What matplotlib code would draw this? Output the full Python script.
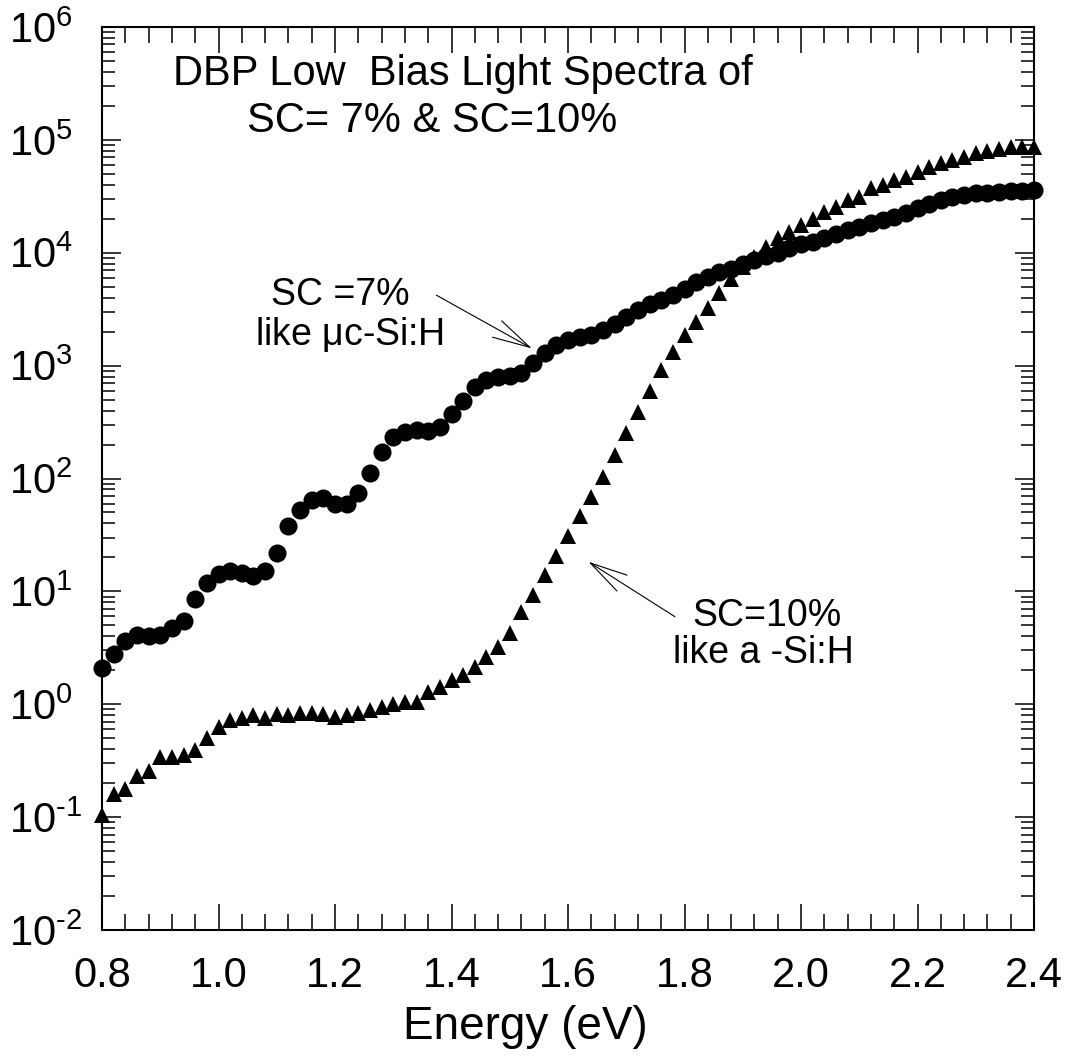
import numpy as np
import matplotlib
matplotlib.use('Agg')
import matplotlib.pyplot as plt
from matplotlib.ticker import MultipleLocator, LogLocator, NullFormatter, FuncFormatter

plt.rcParams['font.family'] = ['Liberation Sans', 'DejaVu Sans']
plt.rcParams['mathtext.fontset'] = 'custom'
plt.rcParams['mathtext.rm'] = 'Liberation Sans'

# energia (eV), un punto cada 0.02 eV
energy = np.round(np.arange(0.80, 2.401, 0.02), 2)

# SC = 7 % (circulos)
sc7 = [2.08, 2.8, 3.65, 4.1, 4.0, 4.1, 4.7, 5.5, 8.5, 11.9,
       14.2, 15.2, 14.6, 13.7, 15.2, 22, 37.9, 52.5, 65, 66.6,
       60, 59.3, 73.8, 112, 172, 234, 259, 268, 266, 287,
       375, 485, 641, 742, 785, 807, 852, 1046, 1297, 1515,
       1682, 1778, 1865, 2062, 2332, 2700, 3100, 3500, 3800, 4200,
       4820, 5520, 6100, 6770, 7250, 7940, 8600, 9330, 10000, 10960,
       11900, 12500, 13650, 14800, 15850, 17000, 18200, 19500, 20800, 22600,
       24700, 26900, 29200, 30900, 32400, 33500, 33900, 34700, 35200, 35400,
       36300]

# SC = 10 % (triangulos)
sc10 = [0.104, 0.16, 0.176, 0.231, 0.258, 0.343, 0.34, 0.355, 0.393, 0.5,
        0.63, 0.724, 0.75, 0.8, 0.75, 0.82, 0.8, 0.84, 0.84, 0.82,
        0.766, 0.8, 0.84, 0.89, 0.94, 1.0, 1.05, 1.05, 1.29, 1.43,
        1.64, 1.81, 2.15, 2.64, 3.2, 4.3, 6.6, 9.3, 14.0, 20.5,
        31, 47, 68, 103, 161, 251, 390, 598, 912, 1325,
        1862, 2443, 3210, 4365, 5800, 7500, 9200, 11270, 13400, 15300,
        17600, 20100, 23000, 25500, 29200, 31300, 37100, 39700, 44000, 47100,
        52100, 57700, 61800, 66100, 70800, 75900, 80000, 82800, 85700, 86900,
        86900]


def exp_label(v, pos):
    e = int(round(np.log10(v)))
    s = str(e).replace('-', '\u2010')  # guion corto como en el original
    return r'$\mathregular{10^{%s}}$' % s


fig = plt.figure(figsize=(10.70, 10.62), dpi=100)
ax = fig.add_axes([0.09533, 0.12429, 0.87103, 0.85028])

ax.plot(energy, sc7, linestyle='none', marker='o', markersize=13,
        color='black', markeredgewidth=0, clip_on=False, zorder=3)
ax.plot(energy, sc10, linestyle='none', marker='^', markersize=11,
        color='black', markeredgewidth=0, clip_on=False, zorder=3)

ax.set_yscale('log')
ax.set_xlim(0.8, 2.4)
ax.set_ylim(1e-2, 1e6)

# ejes y marcas
for s in ax.spines.values():
    s.set_linewidth(1.5)
ax.xaxis.set_major_locator(MultipleLocator(0.2))
ax.xaxis.set_minor_locator(MultipleLocator(0.04))
ax.xaxis.set_major_formatter(FuncFormatter(lambda v, p: '%.1f' % v))
ax.yaxis.set_major_locator(LogLocator(base=10, numticks=20))
ax.yaxis.set_minor_locator(LogLocator(base=10, subs=np.arange(2, 10), numticks=20))
ax.yaxis.set_minor_formatter(NullFormatter())
ax.yaxis.set_major_formatter(FuncFormatter(exp_label))

ax.tick_params(axis='x', which='major', direction='in', length=19, width=1.1,
               top=True, bottom=True, labelsize=30, pad=19)
ax.tick_params(axis='x', which='minor', direction='in', length=11.5, width=1.1,
               top=True, bottom=True)
ax.tick_params(axis='y', which='major', direction='in', length=14, width=1.1,
               left=True, right=True, labelsize=30, pad=67)
ax.tick_params(axis='y', which='minor', direction='in', length=9.5, width=1.1,
               left=True, right=True)
for lab in ax.get_yticklabels():
    lab.set_horizontalalignment('left')

ax.set_xlabel('Energy (eV)', fontsize=33)
ax.xaxis.set_label_coords(0.454, -0.083)

# titulo dentro del grafico
ax.text(0.922, 3.05e5, 'DBP Low  Bias Light Spectra of', fontsize=30, ha='left', va='baseline')
ax.text(1.049, 1.17e5, 'SC= 7% & SC=10%', fontsize=30, ha='left', va='baseline')

# anotaciones
ax.text(1.2086, 3436, 'SC =7%', fontsize=27, ha='center', va='baseline')
ax.text(1.224, 1520, r'like $\mathregular{\mu}$c-Si:H', fontsize=27, ha='center', va='baseline')
ax.annotate('', xy=(1.538, 1420), xytext=(1.374, 4210),
            arrowprops=dict(arrowstyle='->,head_length=1.0,head_width=0.25',
                            lw=0.8, color='black', mutation_scale=27,
                            shrinkA=0, shrinkB=0))

ax.text(1.9408, 4.93, 'SC=10%', fontsize=27, ha='center', va='baseline')
ax.text(1.9356, 2.32, 'like a -Si:H', fontsize=27, ha='center', va='baseline')
ax.annotate('', xy=(1.635, 18.3), xytext=(1.7837, 5.96),
            arrowprops=dict(arrowstyle='->,head_length=1.0,head_width=0.25',
                            lw=0.8, color='black', mutation_scale=27,
                            shrinkA=0, shrinkB=0))

fig.savefig('out.png', dpi=100)
